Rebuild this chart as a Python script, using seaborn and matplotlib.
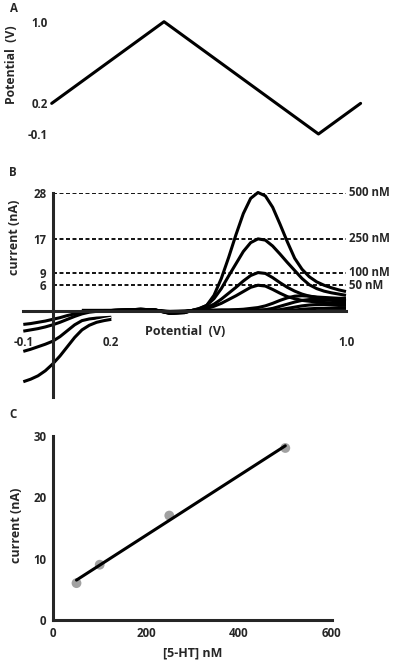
import numpy as np
import pandas as pd
import matplotlib
matplotlib.use('Agg')
import matplotlib.pyplot as plt
import matplotlib.patheffects as pe
import seaborn as sns

# panel A: triangular waveform (time in ms, potential in V)
time_ms = [0, 2.0, 4.75, 5.5]
waveform_v = [0.2, 1.0, -0.1, 0.2]
wave_ticks = [1.0, 0.2, -0.1]

# panel B: forward sweep, background-subtracted current (nA)
fwd_potential = [0.10, 0.15, 0.20, 0.25, 0.30, 0.35, 0.40, 0.45, 0.475,
                 0.50, 0.525, 0.55, 0.575, 0.60, 0.625, 0.65, 0.675, 0.70,
                 0.725, 0.75, 0.775, 0.80, 0.825, 0.85, 0.875, 0.90, 0.925,
                 0.95, 0.975, 1.00]
i_500 = [0, 0, 0, 0.1, 0.3, 0.1, -0.7, -0.5, 0.0,
         0.5, 1.2, 3.6, 7.6, 12.6, 18.0, 23.0, 26.6, 28.0,
         27.2, 24.5, 20.5, 16.3, 12.4, 9.8, 8.0, 6.8, 6.0,
         5.4, 4.9, 4.5]
i_250 = [0, 0, 0, 0.1, 0.3, 0.1, -0.7, -0.5, 0.0,
         0.4, 1.2, 2.8, 5.2, 8.2, 11.1, 14.0, 16.1, 17.0,
         16.7, 15.3, 13.4, 11.4, 9.5, 7.6, 6.1, 5.2, 4.6,
         4.2, 3.9, 3.6]
i_100 = [0, 0, 0, 0.1, 0.3, 0.1, -0.6, -0.4, 0.0,
         0.2, 0.7, 1.5, 2.7, 4.1, 5.5, 7.0, 8.3, 9.0,
         8.8, 7.8, 6.6, 5.5, 4.6, 3.9, 3.4, 3.1, 2.8,
         2.6, 2.5, 2.4]
i_50 = [0, 0, 0, 0.1, 0.2, 0.1, -0.6, -0.4, 0.0,
        0.2, 0.5, 1.0, 1.7, 2.6, 3.5, 4.5, 5.5, 6.0,
        5.8, 5.0, 4.1, 3.3, 2.8, 2.4, 2.2, 2.0, 1.9,
        1.8, 1.7, 1.7]
i_25 = [0, 0, 0, 0.1, 0.2, 0.1, -0.5, -0.3, 0.0,
        0.1, 0.1, 0.1, 0.1, 0.1, 0.2, 0.3, 0.5, 0.7,
        1.1, 1.7, 2.4, 3.0, 3.4, 3.5, 3.4, 3.2, 3.1,
        3.0, 2.9, 2.9]
i_10 = [0, 0, 0, 0.1, 0.2, 0.1, -0.4, -0.3, 0.0,
        0.0, 0.0, 0.0, 0.1, 0.1, 0.1, 0.1, 0.1, 0.1,
        0.2, 0.5, 1.0, 1.5, 2.0, 2.4, 2.6, 2.6, 2.5,
        2.4, 2.3, 2.2]
i_5 = [0, 0, 0, 0.1, 0.1, 0.0, -0.3, -0.2, 0.0,
       0, 0, 0, 0, 0, 0, 0, 0, 0,
       0.1, 0.1, 0.2, 0.5, 0.8, 1.1, 1.3, 1.4, 1.4,
       1.3, 1.2, 1.2]
i_0 = [0, 0, 0, 0, 0.1, 0, -0.2, -0.1, 0,
       0, 0, 0, 0, 0, 0, 0, 0, 0,
       0, 0, 0, 0.1, 0.1, 0.3, 0.4, 0.5, 0.5,
       0.5, 0.5, 0.5]

# panel B: return sweep near the negative limit
rev_potential = [-0.1, -0.075, -0.05, -0.025, 0.0, 0.025, 0.05, 0.075, 0.1,
                 0.125, 0.15, 0.175, 0.2]
rev_a = [-3.3, -3.1, -2.8, -2.5, -2.1, -1.7, -1.2, -0.8, -0.4, -0.2, -0.1, 0, 0]
rev_b = [-4.9, -4.6, -4.3, -3.9, -3.4, -2.8, -2.1, -1.4, -0.8, -0.4, -0.2, -0.1, 0]
rev_c = [-9.7, -9.2, -8.6, -8.0, -7.3, -6.2, -4.8, -3.4, -2.4, -2.0, -1.8, -1.7, -1.6]
rev_d = [-16.9, -16.3, -15.5, -14.3, -12.7, -10.8, -8.6, -6.4, -4.6, -3.5, -2.8, -2.4, -2.1]

peak_levels = [28, 17, 9, 6]
peak_labels = ['500 nM', '250 nM', '100 nM', '50 nM']
b_xticklabels = ['-0.1', '0.2', '1.0']
b_xtickpos = [-0.1, 0.2, 1.0]

# panel C: calibration
conc_nm = [50, 100, 250, 500]
peak_na = [6, 9, 17, 28]

sns.set_style('white')
plt.rcParams['font.family'] = ['Open Sans', 'DejaVu Sans']
plt.rcParams['font.weight'] = 'bold'
plt.rcParams['axes.labelweight'] = 'bold'
FS = 8.3
LW = 2.2

W, H = 397, 663
fig = plt.figure(figsize=(W / 100, H / 100), dpi=100)


def px_axes(x0, x1, y0, y1):
    # pixel box (left, right, top, bottom) -> figure axes
    return fig.add_axes([x0 / W, 1 - y1 / H, (x1 - x0) / W, (y1 - y0) / H])


# ---- A ----
axa = px_axes(51.7, 360.6, 21.7, 134.0)
sns.lineplot(x=time_ms, y=waveform_v, ax=axa, color='k', lw=LW, sort=False)
axa.set_xlim(0, 5.5)
axa.set_ylim(-0.1, 1.0)
for s in axa.spines.values():
    s.set_visible(False)
axa.set_xticks([])
axa.set_yticks(wave_ticks)
axa.set_yticklabels([f'{v:.1f}' for v in wave_ticks], fontsize=FS, fontweight='bold')
axa.tick_params(axis='y', length=0, pad=3)
for l in axa.lines:
    l.set_clip_on(False)
fig.text(12 / W, 1 - 65 / H, 'Potential  (V)', rotation=90, ha='center', va='center',
         fontsize=FS + 0.5, fontweight='bold')

# ---- B ----
axb = px_axes(23.3, 346.0, 192.5, 396.9)
fwd = pd.concat([pd.DataFrame({'potential': fwd_potential, 'current': c, 'curve': n})
                 for n, c in [('500', i_500), ('250', i_250), ('100', i_100), ('50', i_50),
                              ('25', i_25), ('10', i_10), ('5', i_5), ('0', i_0)]])
sns.lineplot(data=fwd, x='potential', y='current', units='curve', estimator=None,
             color='k', lw=LW, sort=False, ax=axb)
rev = pd.concat([pd.DataFrame({'potential': rev_potential, 'current': c, 'curve': n})
                 for n, c in [('a', rev_a), ('b', rev_b)]])
sns.lineplot(data=rev, x='potential', y='current', units='curve', estimator=None,
             color='k', lw=LW, sort=False, ax=axb)
halo = [pe.Stroke(linewidth=LW + 1.6, foreground='white'), pe.Normal()]
for c in [rev_c, rev_d]:
    sns.lineplot(x=rev_potential, y=c, color='k', lw=LW, sort=False, ax=axb,
                 path_effects=halo)
for l in axb.lines:
    l.set_clip_on(False)
    l.set_solid_capstyle('butt')

for lev, lab in zip(peak_levels, peak_labels):
    axb.plot([0, 1.0], [lev, lev], color='k', lw=1.3, ls=(0, (2.2, 1.4)), zorder=1)
    axb.text(1.01, lev, lab, ha='left', va='center', fontsize=FS, fontweight='bold')

axb.set_xlim(-0.1, 1.0)
axb.set_ylim(-20.5, 28)
axb.spines['left'].set_position(('data', 0))
axb.spines['bottom'].set_position(('data', 0))
axb.spines['top'].set_visible(False)
axb.spines['right'].set_visible(False)
axb.spines['left'].set_linewidth(LW)
axb.spines['bottom'].set_linewidth(LW)
axb.set_xticks([-0.1, 1.0])
axb.set_xticklabels([])
axb.tick_params(axis='x', direction='out', length=3, width=1.5)
axb.set_yticks(peak_levels)
axb.set_yticklabels([str(v) for v in peak_levels], fontsize=FS, fontweight='bold')
axb.tick_params(axis='y', direction='out', length=3, width=1.5, pad=1.5)
axb.set_xlabel('')
axb.set_ylabel('')
for pos, lab in zip(b_xtickpos, b_xticklabels):
    axb.text(pos, -7.7, lab, ha='center', va='center', fontsize=FS, fontweight='bold')
axb.text(0.451, -5.1, 'Potential  (V)', ha='center', va='center', fontsize=FS + 0.7,
         fontweight='bold')
fig.text(15 / W, 1 - 237 / H, 'current (nA)', rotation=90, ha='center', va='center',
         fontsize=FS + 0.7, fontweight='bold')

# ---- C ----
axc = px_axes(53.3, 331.7, 435.7, 620.0)
sns.regplot(x=conc_nm, y=peak_na, ax=axc, ci=None,
            scatter_kws={'s': 50, 'color': '#8a8a8a', 'edgecolor': 'none', 'zorder': 2},
            line_kws={'color': 'k', 'lw': LW, 'zorder': 3})
axc.set_xlim(0, 600)
axc.set_ylim(0, 30)
axc.set_xticks([0, 200, 400, 600])
axc.set_yticks([0, 10, 20, 30])
axc.set_xticklabels(['0', '200', '400', '600'], fontsize=FS, fontweight='bold')
axc.set_yticklabels(['0', '10', '20', '30'], fontsize=FS, fontweight='bold')
axc.spines['top'].set_visible(False)
axc.spines['right'].set_visible(False)
axc.spines['left'].set_linewidth(LW)
axc.spines['bottom'].set_linewidth(LW)
axc.tick_params(direction='out', length=3, width=1.5, pad=2)
axc.set_xlabel('')
axc.set_ylabel('')
fig.text(193 / W, 1 - 653 / H, '[5-HT] nM', ha='center', va='center',
         fontsize=FS + 0.7, fontweight='bold')
fig.text(17 / W, 1 - 525 / H, 'current (nA)', rotation=90, ha='center', va='center',
         fontsize=FS + 0.7, fontweight='bold')

for lab, (x, y) in zip(['A', 'B', 'C'], [(14, 8), (13, 173), (13, 415)]):
    fig.text(x / W, 1 - y / H, lab, ha='center', va='center', fontsize=FS, fontweight='bold')

fig.savefig('out.png', dpi=100)
